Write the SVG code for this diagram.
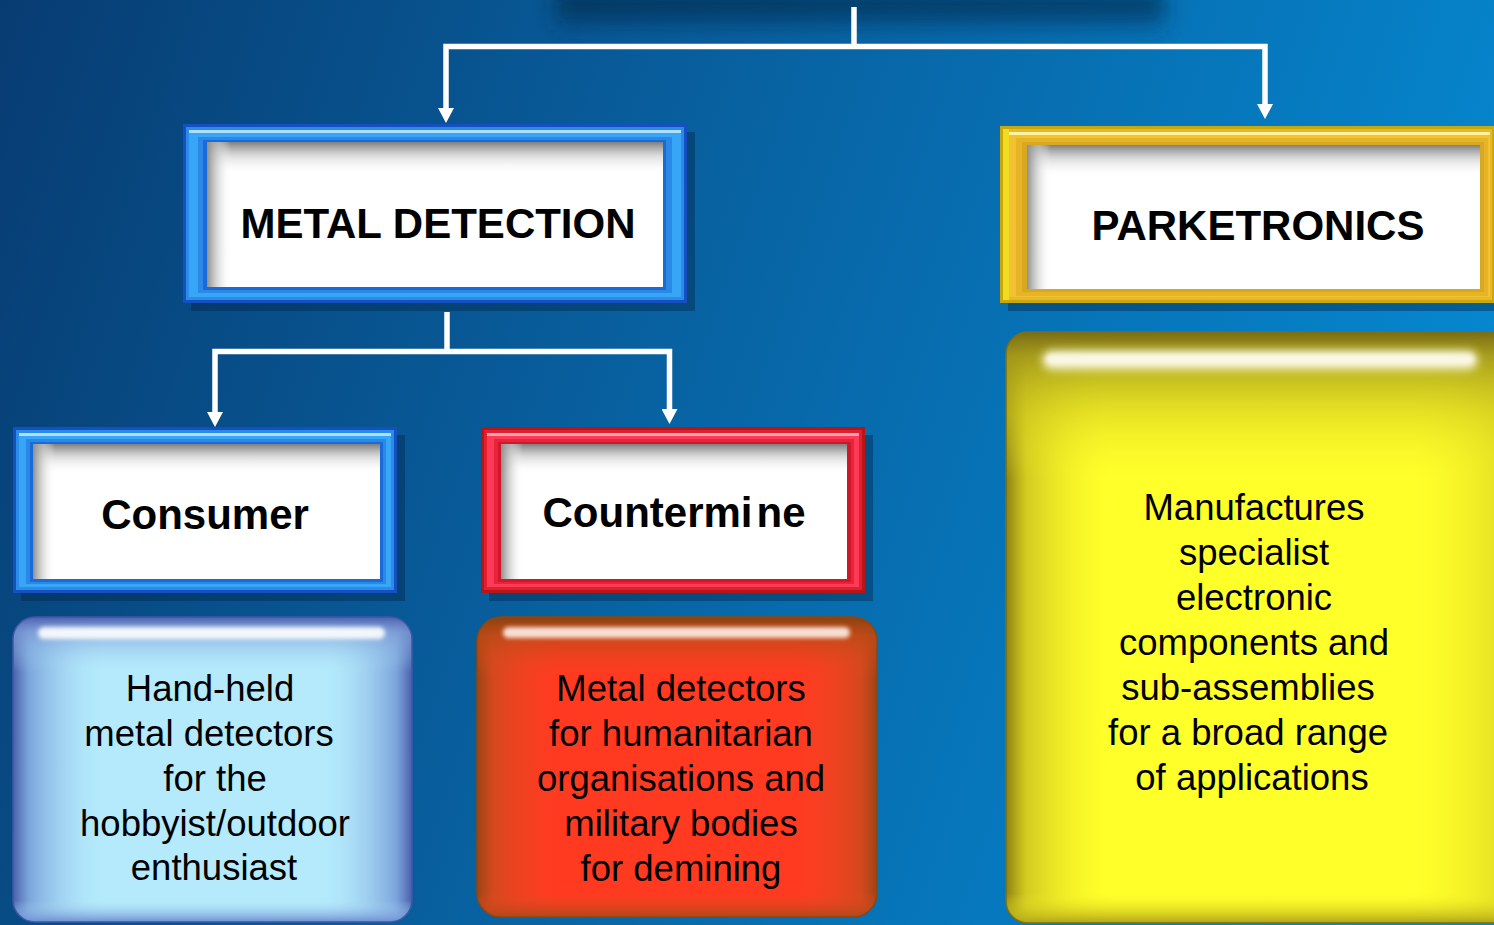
<svg xmlns="http://www.w3.org/2000/svg" width="1494" height="925" viewBox="0 0 1494 925">
<defs>
<style>
.lbl{font-family:"Liberation Sans",Arial,sans-serif;font-weight:bold;font-size:42px;fill:#000;text-anchor:middle}
.desc{font-family:"Liberation Sans",Arial,sans-serif;font-size:36.5px;fill:#000;text-anchor:middle}
.conn{fill:none;stroke:#fff;stroke-width:5.5;stroke-linejoin:miter}
.shadow{fill:#03264c;opacity:.42}
.white{fill:#fff}
</style>
<linearGradient id="bg" x1="0" y1="0" x2="1494" y2="500" gradientUnits="userSpaceOnUse">
<stop offset="0" stop-color="#073c72"/>
<stop offset="0.45" stop-color="#08609f"/>
<stop offset="1" stop-color="#0589d2"/>
</linearGradient>
<linearGradient id="topSh" x1="0" y1="0" x2="0" y2="1">
<stop offset="0" stop-color="#041c36" stop-opacity="0.9"/>
<stop offset="0.5" stop-color="#062a50" stop-opacity="0.5"/>
<stop offset="1" stop-color="#083a6a" stop-opacity="0"/>
</linearGradient>
<linearGradient id="shTop" x1="0" y1="0" x2="0" y2="1">
<stop offset="0" stop-color="#7e7e7e" stop-opacity="1"/>
<stop offset="0.45" stop-color="#c8c8c8" stop-opacity="0.6"/>
<stop offset="1" stop-color="#ffffff" stop-opacity="0"/>
</linearGradient>
<linearGradient id="shLeft" x1="0" y1="0" x2="1" y2="0">
<stop offset="0" stop-color="#8e8e8e" stop-opacity="1"/>
<stop offset="0.5" stop-color="#d0d0d0" stop-opacity="0.6"/>
<stop offset="1" stop-color="#ffffff" stop-opacity="0"/>
</linearGradient>
<linearGradient id="bH" x1="0" y1="0" x2="1" y2="0">
<stop offset="0" stop-color="#4a5eaa"/>
<stop offset="0.04" stop-color="#6e94d4" stop-opacity="0.8"/>
<stop offset="0.22" stop-color="#a8dcf6" stop-opacity="0"/>
<stop offset="0.78" stop-color="#a8dcf6" stop-opacity="0"/>
<stop offset="0.96" stop-color="#6e94d4" stop-opacity="0.8"/>
<stop offset="1" stop-color="#4a5eaa"/>
</linearGradient>
<linearGradient id="bV" x1="0" y1="0" x2="0" y2="1">
<stop offset="0" stop-color="#4c60ae"/>
<stop offset="0.05" stop-color="#7c9ad6" stop-opacity="0.7"/>
<stop offset="0.18" stop-color="#a8dcf6" stop-opacity="0"/>
<stop offset="0.93" stop-color="#a8dcf6" stop-opacity="0"/>
<stop offset="1" stop-color="#6e8ed2"/>
</linearGradient>
<linearGradient id="rH" x1="0" y1="0" x2="1" y2="0">
<stop offset="0" stop-color="#9c4414"/>
<stop offset="0.04" stop-color="#c84c1c" stop-opacity="0.8"/>
<stop offset="0.2" stop-color="#f04a24" stop-opacity="0"/>
<stop offset="0.8" stop-color="#f04a24" stop-opacity="0"/>
<stop offset="0.96" stop-color="#c84c1c" stop-opacity="0.8"/>
<stop offset="1" stop-color="#9c4414"/>
</linearGradient>
<linearGradient id="rV" x1="0" y1="0" x2="0" y2="1">
<stop offset="0" stop-color="#8a4210"/>
<stop offset="0.06" stop-color="#b84a16" stop-opacity="0.8"/>
<stop offset="0.2" stop-color="#e84a22" stop-opacity="0"/>
<stop offset="0.92" stop-color="#e84a22" stop-opacity="0"/>
<stop offset="1" stop-color="#b04818"/>
</linearGradient>
<linearGradient id="yH" x1="0" y1="0" x2="1" y2="0">
<stop offset="0" stop-color="#8c8012"/>
<stop offset="0.04" stop-color="#c8be1e" stop-opacity="0.8"/>
<stop offset="0.2" stop-color="#f4f028" stop-opacity="0"/>
<stop offset="0.8" stop-color="#f4f028" stop-opacity="0"/>
<stop offset="0.96" stop-color="#d8d020" stop-opacity="0.6"/>
<stop offset="1" stop-color="#b0a418"/>
</linearGradient>
<linearGradient id="yV" x1="0" y1="0" x2="0" y2="1">
<stop offset="0" stop-color="#7a6c14"/>
<stop offset="0.04" stop-color="#a0961a" stop-opacity="0.9"/>
<stop offset="0.14" stop-color="#d0c81e" stop-opacity="0.5"/>
<stop offset="0.25" stop-color="#f4f028" stop-opacity="0"/>
<stop offset="0.95" stop-color="#f4f028" stop-opacity="0"/>
<stop offset="1" stop-color="#b0a418"/>
</linearGradient>
<filter id="blur2" x="-10%" y="-100%" width="120%" height="300%"><feGaussianBlur stdDeviation="2"/></filter>
<filter id="blur4" x="-10%" y="-100%" width="120%" height="300%"><feGaussianBlur stdDeviation="4"/></filter>
<filter id="blur8" x="-20%" y="-100%" width="140%" height="300%"><feGaussianBlur stdDeviation="10"/></filter>
<marker id="arrow" viewBox="0 0 15 16" refX="5" refY="8" markerWidth="15" markerHeight="16" markerUnits="userSpaceOnUse" orient="auto">
<path d="M0,0 L15,8 L0,16 z" fill="#fff"/>
</marker>
</defs>

<rect x="0" y="0" width="1494" height="925" fill="url(#bg)"/>
<rect x="555" y="-5" width="610" height="42" fill="url(#topSh)" filter="url(#blur8)"/>

<g id="connectors">
<path class="conn" d="M854,7 V47"/>
<path class="conn" d="M854,46.5 H446 V113" marker-end="url(#arrow)"/>
<path class="conn" d="M854,46.5 H1265 V109" marker-end="url(#arrow)"/>
<path class="conn" d="M447,312 V352"/>
<path class="conn" d="M447,351.5 H215 V417" marker-end="url(#arrow)"/>
<path class="conn" d="M447,351.5 H669.5 V414" marker-end="url(#arrow)"/>
</g>

<g id="metal-detection">
<rect class="shadow" x="191" y="132" width="504" height="179"/>
<rect x="183" y="124" width="504" height="179" fill="#1550c2"/>
<rect x="186" y="127" width="498" height="173" fill="#2a8ce8"/>
<rect x="189" y="130" width="492" height="167" fill="#38a6f6"/>
<rect x="189" y="130" width="492" height="3" fill="#b0deff"/>
<rect x="198" y="137" width="474" height="156" fill="#2a88e6"/>
<rect x="203" y="140" width="463" height="150" fill="#1a6ad8"/>
<rect class="white" x="207" y="142" width="456" height="145"/>
<rect x="207" y="142" width="456" height="32" fill="url(#shTop)"/>
<rect x="207" y="142" width="24" height="145" fill="url(#shLeft)"/>
<text class="lbl" x="438" y="238">METAL DETECTION</text>
</g>

<g id="parketronics">
<rect class="shadow" x="1008" y="134" width="492" height="177"/>
<rect x="1000" y="126" width="494" height="177" fill="#c9a80e"/>
<rect x="1003" y="129" width="489" height="171" fill="#e8b82a"/>
<rect x="1006" y="132" width="484" height="165" fill="#f2c232"/>
<rect x="1006" y="132" width="484" height="3" fill="#fff2a0"/>
<rect x="1003" y="129" width="6" height="171" fill="#f2dc22"/>
<rect x="1016" y="138" width="472" height="158" fill="#e6b426"/>
<rect x="1022" y="142" width="462" height="150" fill="#d8a820"/>
<rect class="white" x="1027" y="145" width="453" height="144"/>
<rect x="1027" y="145" width="453" height="32" fill="url(#shTop)"/>
<rect x="1027" y="145" width="24" height="144" fill="url(#shLeft)"/>
<text class="lbl" x="1258" y="240">PARKETRONICS</text>
</g>

<g id="consumer">
<rect class="shadow" x="21" y="435" width="384" height="166"/>
<rect x="13" y="427" width="384" height="166" fill="#1550c2"/>
<rect x="16" y="430" width="378" height="160" fill="#2a8ce8"/>
<rect x="19" y="433" width="372" height="154" fill="#38a6f6"/>
<rect x="19" y="433" width="372" height="3" fill="#b0deff"/>
<rect x="26" y="439" width="360" height="145" fill="#2a88e6"/>
<rect x="30" y="442" width="353" height="140" fill="#1a6ad8"/>
<rect class="white" x="33" y="444" width="347" height="135"/>
<rect x="33" y="444" width="347" height="30" fill="url(#shTop)"/>
<rect x="33" y="444" width="22" height="135" fill="url(#shLeft)"/>
<text class="lbl" x="205" y="529">Consumer</text>
</g>

<g id="countermine">
<rect class="shadow" x="489" y="435" width="384" height="166"/>
<rect x="481" y="427" width="384" height="166" fill="#b81616"/>
<rect x="484" y="430" width="378" height="160" fill="#e0202e"/>
<rect x="487" y="433" width="372" height="154" fill="#ff3a56"/>
<rect x="487" y="433" width="372" height="3" fill="#ffa4b2"/>
<rect x="494" y="439" width="360" height="145" fill="#e8243a"/>
<rect x="498" y="442" width="353" height="140" fill="#d0182a"/>
<rect class="white" x="501" y="444" width="346" height="135"/>
<rect x="501" y="444" width="346" height="30" fill="url(#shTop)"/>
<rect x="501" y="444" width="22" height="135" fill="url(#shLeft)"/>
<text class="lbl" x="674" y="527">Countermi<tspan dx="4">ne</tspan></text>
</g>

<g id="consumer-desc">
<rect x="13" y="617" width="399" height="305" rx="22" fill="#b4eafc"/>
<rect x="13" y="617" width="399" height="305" rx="22" fill="url(#bH)"/>
<rect x="13" y="617" width="399" height="305" rx="22" fill="url(#bV)"/>
<rect x="13" y="617" width="399" height="305" rx="22" fill="none" stroke="#3e58a8" stroke-width="1.5"/>
<rect x="38" y="627" width="347" height="12" rx="6" fill="#ffffff" opacity="0.9" filter="url(#blur2)"/>
<text class="desc" x="210" y="701">Hand-held</text>
<text class="desc" x="209" y="746">metal detectors</text>
<text class="desc" x="215" y="791">for the</text>
<text class="desc" x="215" y="836">hobbyist/outdoor</text>
<text class="desc" x="214" y="880">enthusiast</text>
</g>

<g id="countermine-desc">
<rect x="477" y="617" width="400" height="300" rx="24" fill="#ff3a20"/>
<rect x="477" y="617" width="400" height="300" rx="24" fill="url(#rH)"/>
<rect x="477" y="617" width="400" height="300" rx="24" fill="url(#rV)"/>
<rect x="477" y="617" width="400" height="300" rx="24" fill="none" stroke="#8a4812" stroke-width="1.5"/>
<rect x="503" y="627" width="347" height="11" rx="5.5" fill="#fff0e8" opacity="0.9" filter="url(#blur2)"/>
<text class="desc" x="681" y="701">Metal detectors</text>
<text class="desc" x="681" y="746">for humanitarian</text>
<text class="desc" x="681" y="791">organisations and</text>
<text class="desc" x="681" y="836">military bodies</text>
<text class="desc" x="681" y="881">for demining</text>
</g>

<g id="parketronics-desc">
<rect x="1006" y="332" width="510" height="591" rx="22" fill="#ffff2a"/>
<rect x="1006" y="332" width="510" height="591" rx="22" fill="url(#yH)"/>
<rect x="1006" y="332" width="510" height="591" rx="22" fill="url(#yV)"/>
<rect x="1006" y="332" width="510" height="591" rx="22" fill="none" stroke="#7a7014" stroke-width="1.5"/>
<rect x="1042" y="350" width="436" height="20" rx="10" fill="#fffbe0" opacity="0.85" filter="url(#blur4)"/>
<rect x="1046" y="354" width="428" height="10" rx="5" fill="#ffffff" opacity="0.6" filter="url(#blur2)"/>
<text class="desc" x="1254" y="520">Manufactures</text>
<text class="desc" x="1254" y="565">specialist</text>
<text class="desc" x="1254" y="610">electronic</text>
<text class="desc" x="1254" y="655">components and</text>
<text class="desc" x="1248" y="700">sub-assemblies</text>
<text class="desc" x="1248" y="745">for a broad range</text>
<text class="desc" x="1252" y="790">of applications</text>
</g>
</svg>
